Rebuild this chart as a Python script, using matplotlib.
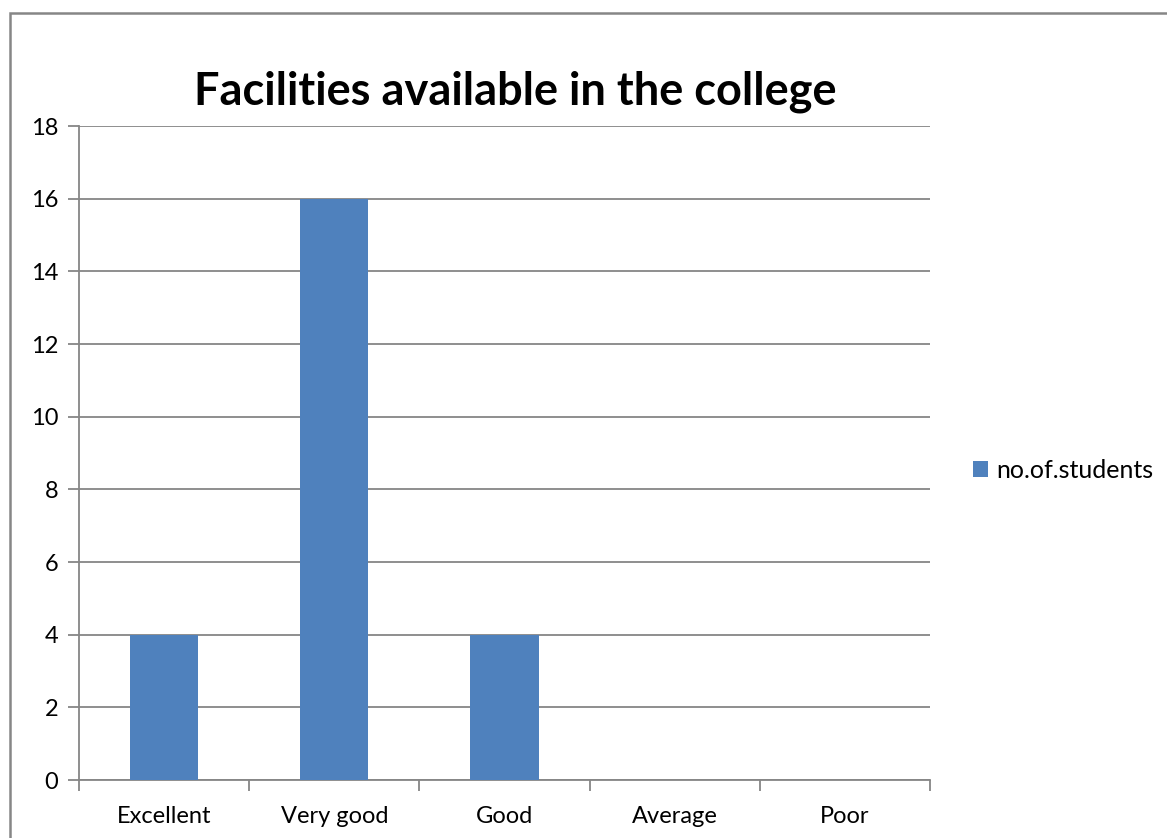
import matplotlib
matplotlib.use("Agg")
import matplotlib.pyplot as plt
from matplotlib.patches import Rectangle

categories = ["Excellent", "Very good", "Good", "Average", "Poor"]
students = [4, 16, 4, 0, 0]
series_name = "no.of.students"
yticks = [0, 2, 4, 6, 8, 10, 12, 14, 16, 18]

plt.rcParams["font.family"] = ["Lato", "DejaVu Sans"]
grey = "#868686"
blue = "#4F81BD"

fig = plt.figure(figsize=(11.67, 8.38), dpi=100)
ax = fig.add_axes([79/1167, 1-780/838, (930-79)/1167, (780-126)/838])

x = list(range(len(categories)))
ax.bar(x, students, width=0.4, color=blue, label=series_name, zorder=3)

ax.set_xlim(-0.5, len(categories)-0.5)
ax.set_ylim(0, 18)
ax.set_yticks(yticks)
ax.yaxis.grid(True, color=grey, linewidth=1.3, zorder=0)
ax.set_xticks([i-0.5 for i in range(len(categories)+1)])
ax.set_xticklabels([])
ax.set_xticks(x, minor=True)
ax.set_xticklabels(categories, minor=True)
ax.tick_params(axis="x", which="major", length=8, width=1.3, color=grey, direction="out")
ax.tick_params(axis="x", which="minor", length=0, labelsize=17, pad=18.5)
ax.tick_params(axis="y", length=8, width=1.3, color=grey, labelsize=17, pad=7)
for s in ["top", "right"]:
    ax.spines[s].set_visible(False)
for s in ["left", "bottom"]:
    ax.spines[s].set_color(grey)
    ax.spines[s].set_linewidth(1.3)

fig.text(515/1167, 1-92/838, "Facilities available in the college",
         ha="center", va="center", fontsize=32.5, fontweight="bold")

fig.legend(loc="center left", bbox_to_anchor=(950/1167, 1-470/838), frameon=False,
           fontsize=18, handlelength=0.6, handleheight=0.6, handletextpad=0.35)

fig.patches.append(Rectangle((10/1167, -0.1), 1.2, (1-13/838)+0.1, transform=fig.transFigure,
                             fill=False, edgecolor=grey, linewidth=1.8))

fig.savefig("out.png", dpi=100)
